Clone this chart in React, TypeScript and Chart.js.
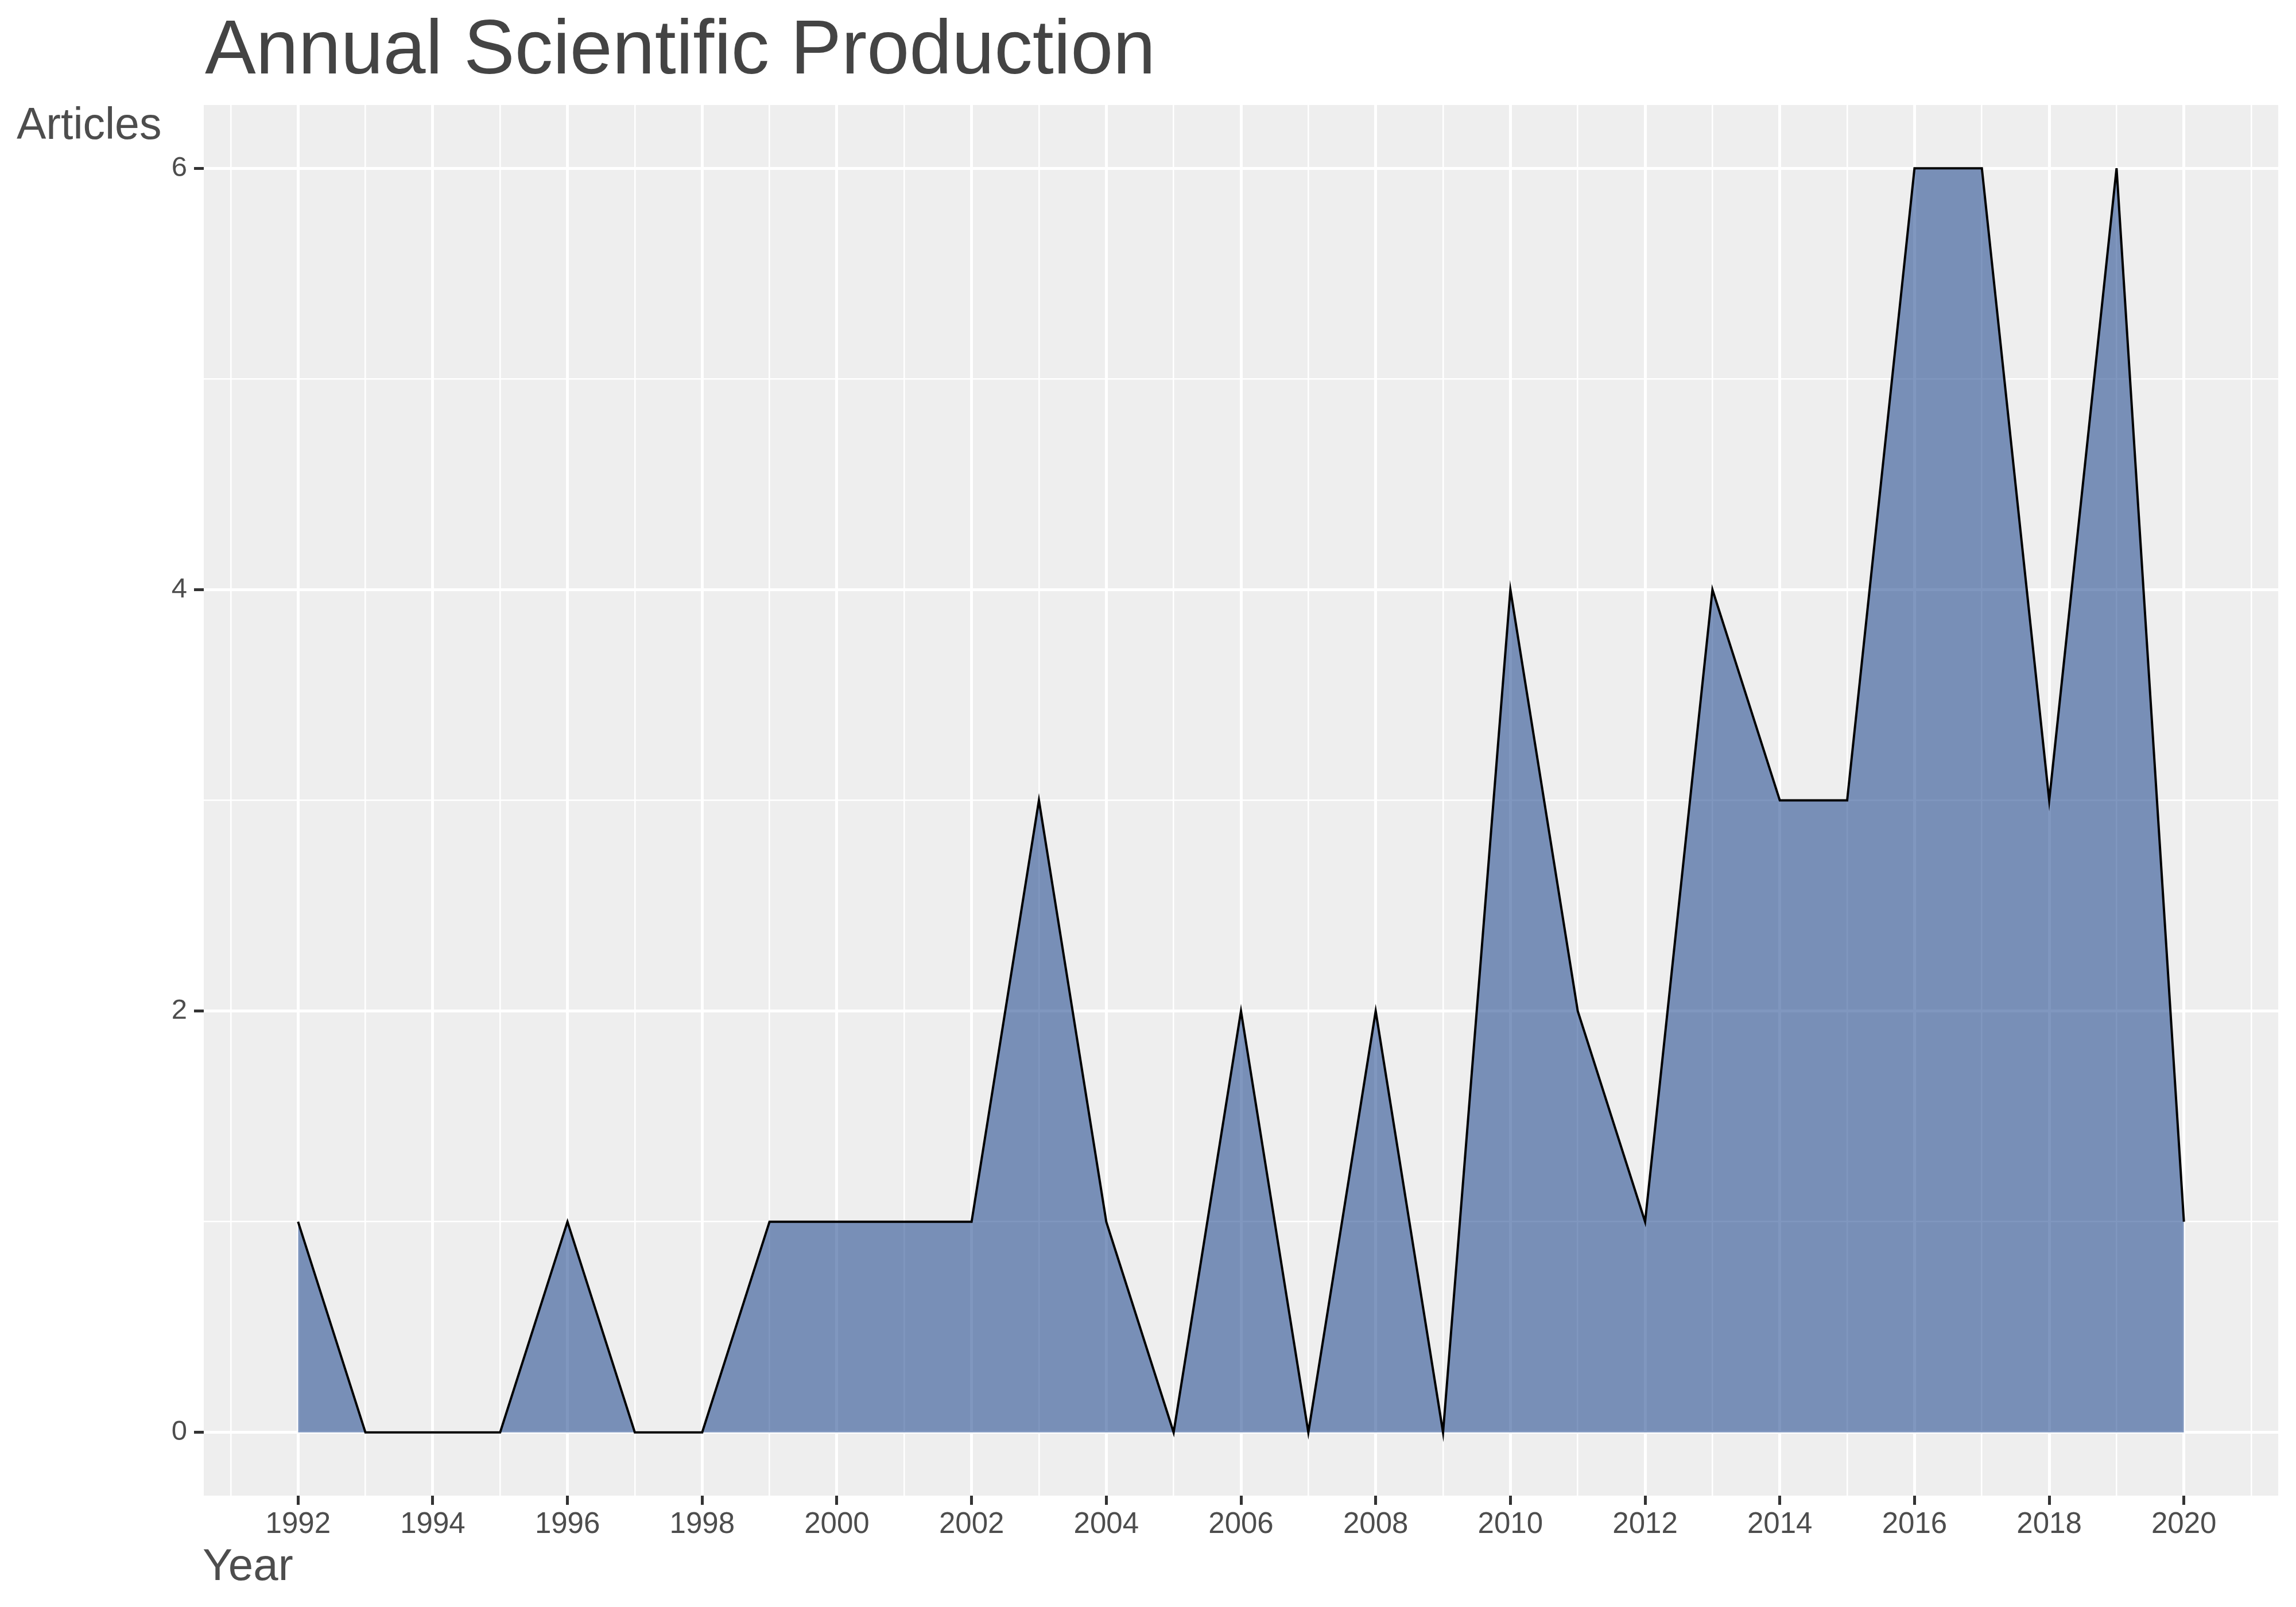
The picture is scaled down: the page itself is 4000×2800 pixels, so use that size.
import { useEffect, useRef } from "react"
import { Chart, registerables } from "chart.js"

Chart.register(...registerables)

// Annual article counts
const years = [
  1992, 1993, 1994, 1995, 1996, 1997, 1998, 1999, 2000, 2001, 2002, 2003, 2004, 2005, 2006,
  2007, 2008, 2009, 2010, 2011, 2012, 2013, 2014, 2015, 2016, 2017, 2018, 2019, 2020,
]
const articles = [1, 0, 0, 0, 1, 0, 0, 1, 1, 1, 1, 3, 1, 0, 2, 0, 2, 0, 4, 2, 1, 4, 3, 3, 6, 6, 3, 6, 1]

// labelled ticks (odd years / odd counts get minor grid only)
const xTickLabels = [1992, 1994, 1996, 1998, 2000, 2002, 2004, 2006, 2008, 2010, 2012, 2014, 2016, 2018, 2020]
const yTickLabels = [0, 2, 4, 6]

const FONT = "'Liberation Sans', Arial, sans-serif"

const isMajorX = (v: number) => xTickLabels.includes(v)
const isMajorY = (v: number) => yTickLabels.includes(v)

export default function App() {
  const chartRef = useRef<HTMLCanvasElement>(null)
  const chartInstance = useRef<Chart | null>(null)

  useEffect(() => {
    if (!chartRef.current) return
    if (chartInstance.current) chartInstance.current.destroy()
    const ctx = chartRef.current.getContext("2d")
    if (!ctx) return

    const xMin = years[0] - (years[years.length - 1] - years[0]) * 0.05
    const xMax = years[years.length - 1] + (years[years.length - 1] - years[0]) * 0.05
    const yMaxVal = Math.max(...articles)
    const yMin = -yMaxVal * 0.05
    const yMax = yMaxVal * 1.05

    const panelBg = {
      id: "panelBg",
      beforeDraw(chart: Chart) {
        const { ctx, chartArea } = chart
        ctx.save()
        ctx.fillStyle = "#EEEEEE"
        ctx.fillRect(chartArea.left, chartArea.top, chartArea.right - chartArea.left, chartArea.bottom - chartArea.top)
        ctx.restore()
      },
      afterDraw(chart: Chart) {
        const { ctx, chartArea } = chart
        ctx.save()
        ctx.textAlign = "left"
        ctx.textBaseline = "alphabetic"
        ctx.fillStyle = "#444444"
        ctx.font = `133px ${FONT}`
        ctx.fillText("Annual Scientific Production", chartArea.left + 2, 128)
        ctx.fillStyle = "#4D4D4D"
        ctx.font = `77px ${FONT}`
        ctx.fillText("Articles", 29, 242)
        ctx.font = `78px ${FONT}`
        ctx.fillText("Year", chartArea.left - 2, 2753)
        ctx.restore()
      },
    }

    chartInstance.current = new Chart(ctx, {
      type: "line",
      data: {
        datasets: [
          {
            data: years.map((y, i) => ({ x: y, y: articles[i] })),
            borderColor: "#000000",
            borderWidth: 4,
            backgroundColor: "rgba(2, 48, 128, 0.5)",
            fill: "origin",
            tension: 0,
            pointRadius: 0,
            pointHoverRadius: 0,
          },
        ],
      },
      options: {
        animation: false,
        responsive: false,
        devicePixelRatio: 1,
        layout: { padding: { top: 183, right: 31, left: 0, bottom: 0 } },
        plugins: {
          legend: { display: false },
          title: { display: false },
          tooltip: { enabled: false },
        },
        scales: {
          x: {
            type: "linear",
            min: xMin,
            max: xMax,
            afterBuildTicks: (scale: any) => {
              const t = []
              for (let v = Math.ceil(xMin); v <= Math.floor(xMax); v++) t.push({ value: v })
              scale.ticks = t
            },
            afterFit: (scale: any) => {
              scale.height = 194
            },
            border: { display: false },
            grid: {
              color: "#FFFFFF",
              lineWidth: (c: any) => (c.tick && isMajorX(c.tick.value) ? 5 : 2.5),
              drawTicks: true,
              tickLength: 16,
              tickWidth: 5,
              tickColor: (c: any) => (c.tick && isMajorX(c.tick.value) ? "#333333" : "rgba(0,0,0,0)"),
            },
            ticks: {
              autoSkip: false,
              maxRotation: 0,
              padding: 4,
              color: "#4D4D4D",
              font: { family: FONT, size: 51 },
              callback: (v: any) => (isMajorX(Number(v)) ? String(v) : ""),
            },
          },
          y: {
            type: "linear",
            min: yMin,
            max: yMax,
            afterBuildTicks: (scale: any) => {
              const t = []
              for (let v = 0; v <= yMaxVal; v++) t.push({ value: v })
              scale.ticks = t
            },
            afterFit: (scale: any) => {
              scale.width = 355
            },
            border: { display: false },
            grid: {
              color: "#FFFFFF",
              lineWidth: (c: any) => (c.tick && isMajorY(c.tick.value) ? 5 : 2.5),
              drawTicks: true,
              tickLength: 17,
              tickWidth: 5,
              tickColor: (c: any) => (c.tick && isMajorY(c.tick.value) ? "#333333" : "rgba(0,0,0,0)"),
            },
            ticks: {
              autoSkip: false,
              padding: 12,
              color: "#4D4D4D",
              font: { family: FONT, size: 49 },
              callback: (v: any) => (isMajorY(Number(v)) ? String(v) : ""),
            },
          },
        },
      },
      plugins: [panelBg],
    } as any)

    return () => {
      if (chartInstance.current) {
        chartInstance.current.destroy()
        chartInstance.current = null
      }
    }
  }, [])

  return (
    <div style={{ position: "absolute", left: 0, top: 0, width: 4000, height: 2800, background: "#FFFFFF" }}>
      <canvas ref={chartRef} width={4000} height={2800} />
    </div>
  )
}
